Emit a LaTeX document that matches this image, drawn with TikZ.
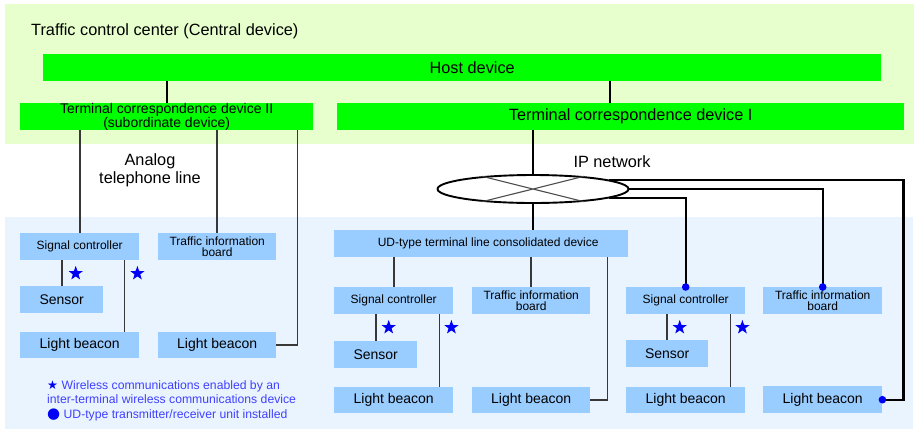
\documentclass[tikz,border=0pt]{standalone}
\usepackage{fontspec}
\setmainfont{Liberation Sans}
\newfontfamily\dejavu{DejaVu Sans}
\usepackage{xcolor}
\usetikzlibrary{positioning,calc,shapes.geometric}

\definecolor{ctrbg}{RGB}{230,255,204}
\definecolor{fieldbg}{RGB}{234,244,255}
\definecolor{devgreen}{RGB}{0,255,0}
\definecolor{devblue}{RGB}{153,204,255}
\definecolor{wmark}{RGB}{0,0,245}
\definecolor{keyblue}{RGB}{64,64,255}

\begin{document}
\begin{tikzpicture}[
    x=1pt, y=-1pt,
    n/.style={anchor=north west, inner sep=0pt, align=center,
              font=\fontsize{12}{11.5}\selectfont},
    gbox/.style={n, fill=devgreen},
    bbox/.style={n, fill=devblue},
    sc/.style={bbox, minimum width=119pt, minimum height=27pt},
    tib/.style={bbox, minimum width=118pt, minimum height=27pt},
    sen/.style={bbox, minimum width=83pt, minimum height=27pt, font=\fontsize{14}{14}\selectfont},
    lb/.style={bbox, minimum width=119pt, minimum height=26pt, font=\fontsize{14}{14}\selectfont},
    big/.style={font=\fontsize{16.3}{18}\selectfont, inner sep=0pt},
    wire/.style={line width=1.8pt, black!78},
    ipwire/.style={line width=2.3pt, black},
    wstar/.style={star, star points=5, star point ratio=2.5, fill=wmark,
                  inner sep=0pt, minimum size=15pt},
    udot/.style={fill=wmark},
    ]
\useasboundingbox (0,0) rectangle (920,432);
\fill[ctrbg] (5,4) rectangle (914,144);
\fill[fieldbg] (5,217) rectangle (913,429);

% central side
\node[big, anchor=base west] (ctr) at (31,35.5) {Traffic control center (Central device)};
\node[gbox, minimum width=838pt, minimum height=27pt, font=\fontsize{16.3}{16}\selectfont] (host) at (43,54)
     {\hspace*{20pt}Host device};
\node[gbox, minimum width=293pt, minimum height=27pt, font=\fontsize{14}{13.5}\selectfont] (tcdtwo) at (20,103)
     {Terminal correspondence device II\\(subordinate device)};
\node[gbox, minimum width=567pt, minimum height=27pt, font=\fontsize{16.3}{16}\selectfont] (tcdone) at (337,103)
     {\hspace*{20pt}Terminal correspondence device I};

\draw[wire, black] (host.south -| tcdtwo.north) -- (tcdtwo.north);
\draw[wire, black] ([xshift=-11pt]tcdone.north) -- ([xshift=-11pt]tcdone.north |- host.south);

% networks
\node[big, anchor=north, align=center] (analog) at (150,153) {Analog\\telephone line};
\node[big, anchor=base] (iplabel) at (612,167) {IP network};
\node[ellipse, draw, line width=1.9pt, fill=white, minimum width=191pt, minimum height=28pt,
      inner sep=0pt] (ip) at (533,189) {};
\draw[line width=1.1pt, black!70] (ip.166) -- (ip.-14) (ip.194) -- (ip.14);

% field devices, analog side
\node[sc] (sca) at (20,233) {Signal controller};
\node[tib] (tiba) at (158,233) {Traffic information\\board};
\node[sen] (sena) at (20,286) {Sensor};
\node[lb] (lba) at (20,332) {Light beacon};
\node[lb, minimum width=118pt] (lbb) at (158,332) {Light beacon};

% field devices, UD-type consolidated
\node[bbox, minimum width=294pt, minimum height=27pt] (ud) at (334,230)
     {\hspace*{14pt}UD-type terminal line consolidated device};
\node[sc] (scb) at (334,287) {Signal controller};
\node[tib] (tibb) at (472,287) {Traffic information\\board};
\node[sen] (senb) at (334,341) {Sensor};
\node[lb] (lbc) at (334,387) {Light beacon};
\node[lb, minimum width=118pt] (lbd) at (472,387) {Light beacon};

% field devices, IP direct
\node[sc] (scc) at (626,287) {Signal controller};
\node[tib, minimum width=119pt] (tibc) at (763,287) {Traffic information\\board};
\node[sen, minimum width=82pt] (senc) at (626,340) {Sensor};
\node[lb] (lbe) at (626,387) {Light beacon};
\node[lb, minimum width=119pt, minimum height=27pt] (lbf) at (763,386) {Light beacon};

% analog lines
\draw[wire] (tcdtwo.south -| sca.north) -- (sca.north);
\draw[wire] (tcdtwo.south -| tiba.north) -- (tiba.north);
\draw[wire] ([xshift=-16pt]tcdtwo.south east) |- (lbb.east);
\draw[wire] (sca.south -| sena.north) -- (sena.north);
\draw[wire] ([xshift=-15pt]sca.south east) -- ([xshift=-15pt]lba.north east);

% IP lines
\draw[wire, black] (tcdone.south -| ip.north) -- (ip.north);
\draw[wire, black] (ip.south) -- (ud.north -| ip.south);
\draw[wire] (ud.south -| scb.north) -- (scb.north);
\draw[wire] (ud.south -| tibb.north) -- (tibb.north);
\draw[wire] ([xshift=-21pt]ud.south east) |- (lbd.east);
\draw[wire] (scb.south -| senb.north) -- (senb.north);
\draw[wire] ([xshift=-14pt]scb.south east) -- ([xshift=-14pt]lbc.north east);

\draw[ipwire] (ip.-7) -| (scc.north);
\draw[ipwire] (ip.east) -| (tibc.north);
\draw[ipwire] (ip.7) -| ($(lbf.east)+(21,0)$) -- (lbf.east);
\draw[wire] (scc.south -| senc.north) -- (senc.north);
\draw[wire] ([xshift=-15pt]scc.south east) -- ([xshift=-15pt]lbe.north east);

\fill[udot] (scc.north) circle (3.8pt);
\fill[udot] (tibc.north) circle (3.8pt);
\fill[udot] (lbf.east) circle (3.8pt);

% wireless marks
\node[wstar] (sta) at ($(sca.south)+(-4,13)$) {};
\node[wstar] (stb) at ($(sca.south east)+(-2,13)$) {};
\node[wstar] (stc) at ($(scb.south)+(-5,13)$) {};
\node[wstar] (std) at ($(scb.south east)+(-2,13)$) {};
\node[wstar] (ste) at ($(scc.south)+(-6,13)$) {};
\node[wstar] (stf) at ($(scc.south east)+(-3,13)$) {};

% key
\node[anchor=north west, align=left, text=keyblue, inner sep=0pt,
      font=\fontsize{12.2}{14.5}\selectfont] (key) at (47,380)
     {{\dejavu\textcolor{wmark}{★}} Wireless communications enabled by an\\
      inter-terminal wireless communications device\\
      {\dejavu\fontsize{15}{14.5}\selectfont\textcolor{wmark}{●}} UD-type transmitter/receiver unit installed};
\end{tikzpicture}
\end{document}
